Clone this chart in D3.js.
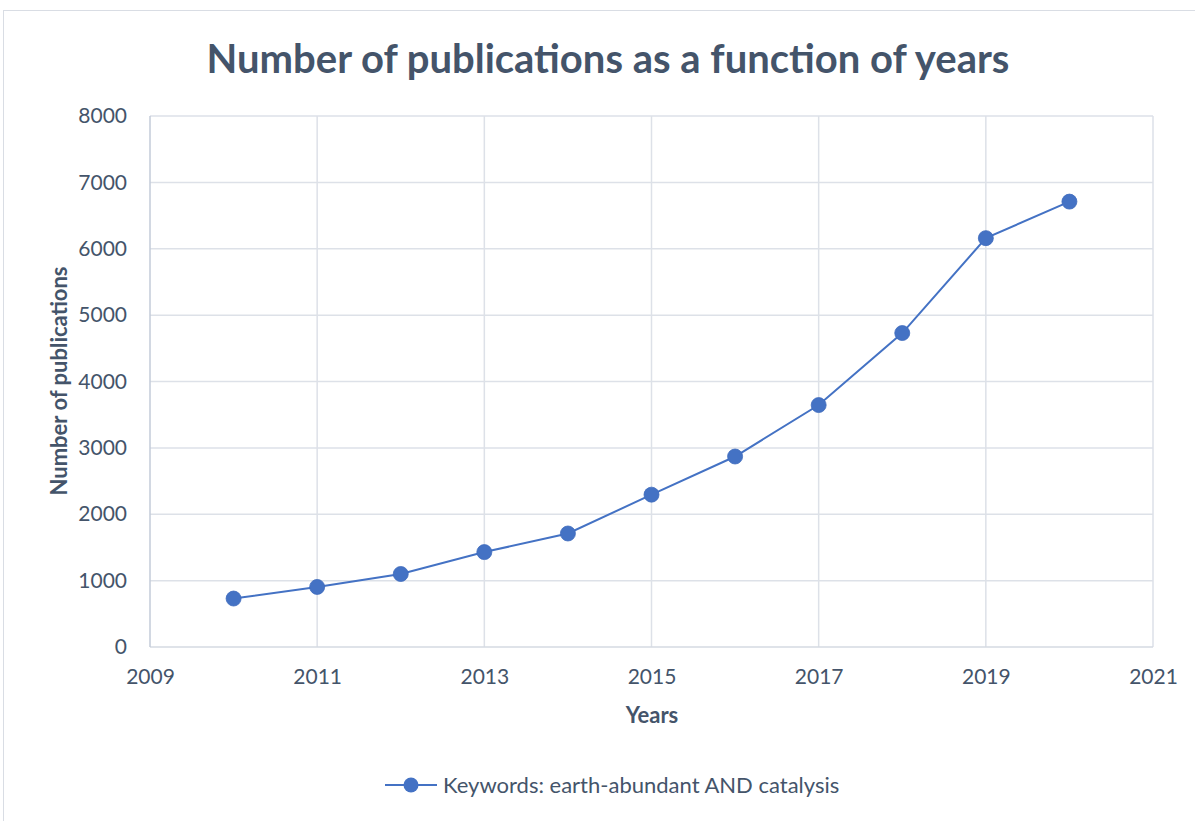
<!DOCTYPE html>
<html>
<head>
<meta charset="utf-8">
<script src="https://cdn.jsdelivr.net/npm/d3@7"></script>
<style>
  body { margin: 0; background: #fff; }
  svg text { font-family: Lato, "Open Sans", sans-serif; }
</style>
</head>
<body>
<div id="chart"></div>
<script>
// years and publication counts
const years = [2010, 2011, 2012, 2013, 2014, 2015, 2016, 2017, 2018, 2019, 2020];
const counts = [730, 905, 1100, 1430, 1710, 2295, 2870, 3645, 4730, 6160, 6710];
const xTicks = [2009, 2011, 2013, 2015, 2017, 2019, 2021];
const yTicks = [0, 1000, 2000, 3000, 4000, 5000, 6000, 7000, 8000];
const seriesName = 'Keywords: earth-abundant AND catalysis';

const W = 1195, H = 821;
const plotL = 150, plotR = 1153, plotT = 116, plotB = 647;
const textCol = '#44546a', blue = '#4472c4';

const svg = d3.select('#chart').append('svg')
    .attr('width', W)
    .attr('height', H);

// outer chart frame
svg.append('rect')
    .attr('x', 3.5).attr('y', 10.5)
    .attr('width', W).attr('height', H)
    .attr('fill', '#fff')
    .attr('stroke', '#d9dde4');

const x = d3.scaleLinear().domain([2009, 2021]).range([plotL, plotR]);
const y = d3.scaleLinear().domain([0, 8000]).range([plotB, plotT]);

// gridlines
svg.append('g').selectAll('line')
    .data(yTicks.slice(1))
    .enter().append('line')
    .attr('x1', plotL).attr('x2', plotR)
    .attr('y1', d => y(d)).attr('y2', d => y(d))
    .attr('stroke', '#dde1e8').attr('stroke-width', 1.5);

svg.append('g').selectAll('line')
    .data(xTicks.slice(1))
    .enter().append('line')
    .attr('x1', d => x(d)).attr('x2', d => x(d))
    .attr('y1', plotT).attr('y2', plotB)
    .attr('stroke', '#dde1e8').attr('stroke-width', 1.5);

// axes lines
svg.append('line')
    .attr('x1', plotL).attr('x2', plotR)
    .attr('y1', plotB).attr('y2', plotB)
    .attr('stroke', '#d5dae2').attr('stroke-width', 1.5);
svg.append('line')
    .attr('x1', plotL).attr('x2', plotL)
    .attr('y1', plotT).attr('y2', plotB)
    .attr('stroke', '#c3cbd8').attr('stroke-width', 1.5);

// tick labels
const yAxis = svg.append('g')
    .attr('transform', `translate(${plotL - 23},0)`)
    .call(d3.axisLeft(y).tickValues(yTicks).tickFormat(d3.format('d')).tickSize(0).tickPadding(0));
yAxis.select('.domain').remove();
yAxis.selectAll('text')
    .attr('fill', textCol)
    .style('font-size', '21px');

const xAxis = svg.append('g')
    .attr('transform', `translate(0,${plotB + 22})`)
    .call(d3.axisBottom(x).tickValues(xTicks).tickFormat(d3.format('d')).tickSize(0).tickPadding(0));
xAxis.select('.domain').remove();
xAxis.selectAll('text')
    .attr('fill', textCol)
    .attr('dy', '0.71em')
    .style('font-size', '21px');

// line + markers
const data = years.map((yr, i) => ({ year: yr, value: counts[i] }));
svg.append('path')
    .datum(data)
    .attr('fill', 'none')
    .attr('stroke', blue)
    .attr('stroke-width', 2)
    .attr('d', d3.line().x(d => x(d.year)).y(d => y(d.value)));

svg.append('g').selectAll('circle')
    .data(data)
    .enter().append('circle')
    .attr('cx', d => x(d.year))
    .attr('cy', d => y(d.value))
    .attr('r', 7.5)
    .attr('fill', blue)
    .attr('stroke', '#3f6bbd')
    .attr('stroke-width', 0.8);

// titles
svg.append('text')
    .attr('x', 608).attr('y', 73)
    .attr('text-anchor', 'middle')
    .attr('fill', textCol)
    .style('font-size', '40px')
    .style('font-weight', 'bold')
    .text('Number of publications as a function of years');

svg.append('text')
    .attr('x', 652).attr('y', 723)
    .attr('text-anchor', 'middle')
    .attr('fill', textCol)
    .style('font-size', '22px')
    .style('font-weight', 'bold')
    .text('Years');

svg.append('text')
    .attr('transform', 'translate(67,381) rotate(-90)')
    .attr('text-anchor', 'middle')
    .attr('fill', textCol)
    .style('font-size', '22px')
    .style('font-weight', 'bold')
    .text('Number of publications');

// legend
const lg = svg.append('g').attr('transform', 'translate(385,785)');
lg.append('line')
    .attr('x1', 0).attr('x2', 52)
    .attr('stroke', blue).attr('stroke-width', 2);
lg.append('circle')
    .attr('cx', 26).attr('r', 7.5)
    .attr('fill', blue);
lg.append('text')
    .attr('x', 58).attr('y', 0)
    .attr('dy', '0.35em')
    .attr('fill', textCol)
    .style('font-size', '22px')
    .text(seriesName);
</script>
</body>
</html>
